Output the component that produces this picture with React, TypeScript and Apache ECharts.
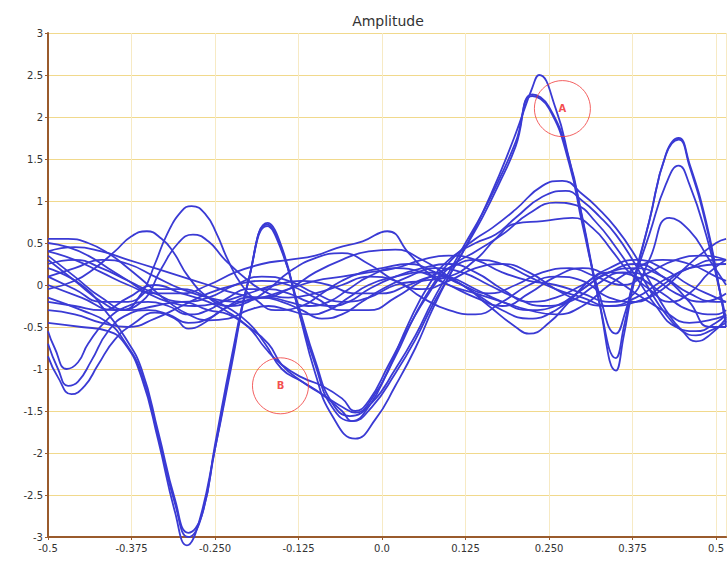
import React, { useEffect, useRef } from "react";
import * as echarts from "echarts";

const title = "Amplitude";
const xTickLabels = ["-0.5", "-0.375", "-0.250", "-0.125", "0.0", "0.125", "0.250", "0.375", "0.5"];

// Large-amplitude traces
const a1 = [[-0.5,-0.45],[-0.45,-0.5],[-0.41,-0.55],[-0.385,-0.7],[-0.36,-1.1],[-0.335,-1.85],[-0.31,-2.7],[-0.292,-3.1],[-0.275,-2.85],[-0.25,-1.95],[-0.225,-0.95],[-0.2,0.05],[-0.171,0.74],[-0.15,0.45],[-0.125,-0.3],[-0.1,-1.05],[-0.075,-1.55],[-0.04,-1.83],[-0.01,-1.6],[0.02,-1.2],[0.05,-0.75],[0.075,-0.3],[0.1,0.1],[0.125,0.45],[0.15,0.85],[0.175,1.3],[0.2,1.8],[0.225,2.35],[0.235,2.5],[0.26,2.1],[0.28,1.5],[0.3,0.8],[0.325,-0.2],[0.35,-1.02],[0.362,-0.6],[0.375,-0.05],[0.4,0.76],[0.425,1.56],[0.444,1.75],[0.46,1.45],[0.485,0.76],[0.505,-0.04],[0.515,-0.5]];
const a2 = [[-0.5,-0.15],[-0.45,-0.3],[-0.41,-0.45],[-0.385,-0.68],[-0.36,-1.05],[-0.335,-1.8],[-0.31,-2.6],[-0.29,-3.0],[-0.272,-2.8],[-0.25,-1.95],[-0.225,-0.9],[-0.2,0.05],[-0.172,0.72],[-0.15,0.42],[-0.125,-0.3],[-0.1,-0.95],[-0.075,-1.45],[-0.045,-1.62],[-0.015,-1.45],[0.02,-1.05],[0.05,-0.65],[0.075,-0.25],[0.1,0.1],[0.125,0.45],[0.15,0.8],[0.175,1.2],[0.2,1.65],[0.225,2.27],[0.25,2.12],[0.28,1.5],[0.3,0.78],[0.325,-0.2],[0.35,-0.87],[0.362,-0.5],[0.375,0.0],[0.4,0.76],[0.425,1.55],[0.444,1.73],[0.46,1.42],[0.485,0.72],[0.505,-0.05],[0.515,-0.45]];
const a3 = [[-0.5,0.2],[-0.45,0.0],[-0.41,-0.35],[-0.385,-0.62],[-0.36,-1.0],[-0.335,-1.75],[-0.31,-2.55],[-0.29,-2.95],[-0.27,-2.75],[-0.25,-1.9],[-0.225,-0.85],[-0.2,0.05],[-0.172,0.7],[-0.15,0.4],[-0.125,-0.25],[-0.1,-0.9],[-0.075,-1.4],[-0.048,-1.56],[-0.015,-1.4],[0.02,-1.0],[0.05,-0.6],[0.075,-0.2],[0.1,0.15],[0.125,0.5],[0.15,0.85],[0.175,1.25],[0.2,1.7],[0.225,2.25],[0.25,2.1],[0.28,1.45],[0.3,0.72],[0.325,-0.1],[0.35,-0.58],[0.365,-0.3],[0.375,0.0],[0.4,0.6],[0.425,1.2],[0.444,1.42],[0.46,1.2],[0.485,0.6],[0.505,-0.05],[0.515,-0.4]];

// Medium-amplitude traces
const m1 = [[-0.5,0.35],[-0.46,0.1],[-0.42,-0.15],[-0.38,-0.3],[-0.34,-0.25],[-0.3,-0.2],[-0.26,-0.3],[-0.23,-0.35],[-0.2,-0.5],[-0.17,-0.7],[-0.15,-0.95],[-0.12,-1.15],[-0.09,-1.3],[-0.06,-1.45],[-0.04,-1.52],[-0.015,-1.35],[0.02,-0.85],[0.05,-0.35],[0.08,0.05],[0.11,0.35],[0.14,0.55],[0.165,0.68],[0.2,0.9],[0.24,1.18],[0.27,1.24],[0.3,1.08],[0.325,0.9],[0.35,0.68],[0.375,0.4],[0.4,0.05],[0.425,-0.3],[0.45,-0.55],[0.47,-0.67],[0.49,-0.6],[0.515,-0.4]];
const m2 = [[-0.5,0.1],[-0.46,-0.05],[-0.42,-0.2],[-0.38,-0.2],[-0.34,-0.05],[-0.3,-0.05],[-0.26,-0.15],[-0.235,-0.25],[-0.2,-0.45],[-0.175,-0.7],[-0.15,-1.0],[-0.12,-1.15],[-0.09,-1.3],[-0.06,-1.5],[-0.045,-1.62],[-0.02,-1.45],[0.01,-1.0],[0.04,-0.45],[0.07,0.0],[0.1,0.3],[0.14,0.5],[0.17,0.6],[0.2,0.8],[0.24,1.05],[0.275,1.12],[0.3,1.0],[0.325,0.82],[0.35,0.6],[0.375,0.3],[0.4,-0.05],[0.425,-0.35],[0.45,-0.55],[0.47,-0.6],[0.49,-0.55],[0.515,-0.45]];
const m3 = [[-0.5,-0.2],[-0.46,-0.25],[-0.42,-0.3],[-0.38,-0.15],[-0.34,0.0],[-0.3,-0.1],[-0.26,-0.2],[-0.235,-0.3],[-0.2,-0.5],[-0.175,-0.75],[-0.15,-0.95],[-0.12,-1.1],[-0.09,-1.2],[-0.06,-1.35],[-0.04,-1.5],[-0.02,-1.38],[0.01,-0.95],[0.04,-0.5],[0.07,-0.1],[0.1,0.2],[0.14,0.4],[0.18,0.6],[0.22,0.85],[0.26,0.98],[0.29,0.95],[0.32,0.75],[0.35,0.45],[0.38,0.1],[0.41,-0.25],[0.44,-0.5],[0.47,-0.55],[0.5,-0.45],[0.515,-0.35]];
const f1 = [[-0.5,0.25],[-0.46,0.3],[-0.42,0.2],[-0.38,0.05],[-0.34,-0.1],[-0.3,-0.2],[-0.26,-0.15],[-0.22,0.0],[-0.18,0.1],[-0.14,0.05],[-0.1,-0.1],[-0.06,-0.2],[-0.02,-0.15],[0.02,0.0],[0.06,0.05],[0.1,0.1],[0.14,0.3],[0.17,0.55],[0.2,0.73],[0.24,0.76],[0.285,0.8],[0.315,0.68],[0.345,0.4],[0.37,0.15],[0.4,-0.05],[0.43,-0.2],[0.46,-0.1],[0.49,0.15],[0.515,0.3]];

// Low-amplitude traces
const t1 = [[-0.5,0.3],[-0.46,0.05],[-0.42,-0.2],[-0.39,-0.3],[-0.36,-0.1],[-0.34,0.25],[-0.322,0.6],[-0.3,0.88],[-0.285,0.94],[-0.265,0.85],[-0.247,0.6],[-0.232,0.32],[-0.21,0.0],[-0.185,-0.2],[-0.16,-0.3],[-0.12,-0.25],[-0.09,-0.1],[-0.06,0.05],[-0.03,0.15],[0.0,0.2],[0.04,0.25],[0.08,0.15],[0.12,0.0],[0.16,-0.1],[0.2,0.0],[0.24,0.15],[0.28,0.2],[0.32,0.1],[0.36,0.0],[0.4,0.15],[0.44,0.3],[0.48,0.35],[0.515,0.3]];
const t2 = [[-0.5,0.0],[-0.45,-0.15],[-0.4,-0.3],[-0.36,-0.2],[-0.33,0.2],[-0.305,0.5],[-0.283,0.6],[-0.26,0.52],[-0.235,0.3],[-0.2,0.05],[-0.17,-0.1],[-0.14,-0.15],[-0.1,-0.1],[-0.06,0.0],[-0.02,0.1],[0.02,0.05],[0.06,-0.15],[0.1,-0.3],[0.14,-0.35],[0.18,-0.2],[0.22,0.0],[0.26,0.1],[0.3,0.05],[0.34,-0.15],[0.38,-0.2],[0.42,0.0],[0.46,0.2],[0.515,0.25]];
const t3 = [[-0.5,-0.05],[-0.46,0.05],[-0.43,0.2],[-0.4,0.4],[-0.375,0.58],[-0.352,0.64],[-0.33,0.55],[-0.313,0.4],[-0.29,0.1],[-0.26,-0.15],[-0.23,-0.25],[-0.2,-0.2],[-0.17,-0.05],[-0.14,0.15],[-0.1,0.32],[-0.06,0.38],[-0.02,0.25],[0.02,0.05],[0.06,-0.05],[0.1,0.05],[0.14,0.2],[0.18,0.25],[0.22,0.15],[0.26,-0.05],[0.3,-0.2],[0.34,-0.25],[0.38,-0.15],[0.42,0.05],[0.46,0.2],[0.5,0.3],[0.515,0.3]];
const t4 = [[-0.5,0.55],[-0.47,0.55],[-0.44,0.5],[-0.41,0.38],[-0.38,0.2],[-0.35,0.0],[-0.32,-0.2],[-0.29,-0.35],[-0.26,-0.42],[-0.23,-0.4],[-0.2,-0.3],[-0.17,-0.25],[-0.14,-0.3],[-0.11,-0.35],[-0.08,-0.3],[-0.05,-0.15],[-0.02,0.0],[0.02,0.1],[0.06,0.15],[0.1,0.1],[0.14,-0.05],[0.18,-0.2],[0.22,-0.3],[0.26,-0.25],[0.3,-0.05],[0.34,0.15],[0.38,0.2],[0.42,0.1],[0.46,-0.1],[0.5,-0.2],[0.515,-0.2]];
const t5 = [[-0.5,-0.55],[-0.49,-0.75],[-0.472,-1.0],[-0.455,-0.92],[-0.44,-0.7],[-0.41,-0.4],[-0.38,-0.25],[-0.35,-0.2],[-0.32,-0.25],[-0.29,-0.35],[-0.26,-0.3],[-0.23,-0.15],[-0.2,-0.05],[-0.17,-0.05],[-0.14,-0.1],[-0.11,-0.2],[-0.08,-0.25],[-0.05,-0.2],[-0.02,-0.05],[0.02,0.1],[0.06,0.2],[0.1,0.25],[0.14,0.15],[0.18,-0.05],[0.22,-0.2],[0.26,-0.15],[0.3,0.0],[0.34,0.15],[0.38,0.1],[0.42,-0.1],[0.46,-0.3],[0.5,-0.35],[0.515,-0.3]];
const t6 = [[-0.5,-0.7],[-0.485,-1.0],[-0.47,-1.2],[-0.455,-1.15],[-0.435,-0.9],[-0.41,-0.55],[-0.38,-0.35],[-0.35,-0.3],[-0.32,-0.35],[-0.29,-0.45],[-0.26,-0.4],[-0.23,-0.25],[-0.2,-0.15],[-0.17,-0.15],[-0.14,-0.2],[-0.11,-0.25],[-0.08,-0.2],[-0.05,-0.05],[-0.02,0.1],[0.02,0.2],[0.06,0.15],[0.1,0.0],[0.14,-0.15],[0.18,-0.25],[0.22,-0.1],[0.26,0.1],[0.3,0.2],[0.34,0.1],[0.38,-0.1],[0.42,-0.3],[0.46,-0.45],[0.5,-0.4],[0.515,-0.35]];
const t7 = [[-0.5,-0.85],[-0.485,-1.1],[-0.465,-1.3],[-0.445,-1.2],[-0.425,-0.95],[-0.4,-0.65],[-0.37,-0.45],[-0.34,-0.33],[-0.31,-0.4],[-0.29,-0.52],[-0.27,-0.47],[-0.24,-0.3],[-0.21,-0.2],[-0.18,-0.15],[-0.15,-0.2],[-0.12,-0.3],[-0.09,-0.4],[-0.06,-0.35],[-0.03,-0.2],[0.0,-0.05],[0.04,0.1],[0.08,0.2],[0.12,0.15],[0.16,0.0],[0.2,-0.15],[0.24,-0.25],[0.28,-0.2],[0.32,0.0],[0.36,0.15],[0.4,0.1],[0.44,-0.1],[0.48,-0.2],[0.515,-0.1]];
const t8 = [[-0.5,0.4],[-0.46,0.3],[-0.42,0.15],[-0.38,0.0],[-0.34,-0.1],[-0.3,-0.1],[-0.26,0.0],[-0.22,0.15],[-0.18,0.25],[-0.14,0.3],[-0.1,0.35],[-0.068,0.44],[-0.029,0.52],[0.008,0.64],[0.041,0.37],[0.071,0.13],[0.1,0.0],[0.14,-0.1],[0.18,-0.2],[0.22,-0.3],[0.26,-0.35],[0.3,-0.25],[0.34,0.0],[0.38,0.2],[0.42,0.3],[0.46,0.25],[0.5,0.1],[0.515,0.05]];
const t9 = [[-0.5,0.1],[-0.46,0.2],[-0.42,0.3],[-0.38,0.25],[-0.34,0.1],[-0.3,-0.05],[-0.26,-0.15],[-0.22,-0.2],[-0.18,-0.15],[-0.14,-0.05],[-0.1,0.05],[-0.06,0.1],[-0.02,0.15],[0.02,0.2],[0.06,0.3],[0.1,0.35],[0.14,0.3],[0.18,0.15],[0.22,0.05],[0.26,0.0],[0.3,-0.1],[0.34,-0.2],[0.37,-0.15],[0.4,0.3],[0.43,0.8],[0.46,0.65],[0.49,0.3],[0.515,0.0]];
const t10 = [[-0.5,0.5],[-0.47,0.45],[-0.44,0.35],[-0.41,0.2],[-0.38,0.05],[-0.35,-0.1],[-0.32,-0.2],[-0.28,-0.25],[-0.24,-0.2],[-0.2,-0.1],[-0.16,0.0],[-0.12,0.05],[-0.08,0.0],[-0.04,-0.1],[0.0,-0.1],[0.04,0.0],[0.08,0.1],[0.12,0.0],[0.16,-0.25],[0.2,-0.5],[0.22,-0.58],[0.25,-0.45],[0.28,-0.2],[0.31,0.05],[0.34,0.2],[0.38,0.3],[0.42,0.2],[0.46,0.0],[0.5,-0.15],[0.515,-0.2]];
const t11 = [[-0.5,0.4],[-0.46,0.45],[-0.42,0.4],[-0.38,0.3],[-0.34,0.2],[-0.3,0.1],[-0.26,0.0],[-0.22,-0.1],[-0.18,-0.15],[-0.14,-0.05],[-0.1,0.15],[-0.06,0.3],[-0.02,0.4],[0.02,0.42],[0.06,0.3],[0.1,0.1],[0.14,-0.1],[0.18,-0.3],[0.22,-0.4],[0.26,-0.3],[0.3,-0.05],[0.34,0.15],[0.38,0.25],[0.42,0.1],[0.46,-0.2],[0.49,-0.5],[0.515,-0.5]];
const t12 = [[-0.5,-0.3],[-0.46,-0.35],[-0.42,-0.45],[-0.38,-0.5],[-0.34,-0.4],[-0.3,-0.25],[-0.26,-0.1],[-0.22,0.0],[-0.18,0.05],[-0.14,0.0],[-0.1,-0.15],[-0.06,-0.3],[-0.02,-0.3],[0.02,-0.15],[0.06,0.05],[0.1,0.2],[0.14,0.3],[0.18,0.25],[0.22,0.1],[0.26,-0.05],[0.3,-0.15],[0.34,-0.25],[0.38,-0.2],[0.42,-0.05],[0.46,0.25],[0.5,0.5],[0.515,0.55]];

const traces = [a1, a2, a3, m1, m2, m3, f1, t1, t2, t3, t4, t5, t6, t7, t8, t9, t10, t11, t12];

// Annotation circles: [x, y, label]
const annotations = [[0.27, 2.1, "A"], [-0.152, -1.2, "B"]];

const AXIS_COLOR = "#9a5b2c";
const GRID_H_COLOR = "#f1d98c";
const GRID_V_COLOR = "#f7eac4";
const LINE_COLOR = "#3a3ad4";
const FONT = "DejaVu Sans";

export default function App() {
  const ref = useRef<HTMLDivElement>(null);
  useEffect(() => {
    if (!ref.current) return;
    const chart = echarts.init(ref.current, undefined, { renderer: "svg" });
    const series: any[] = traces.map((d, i) => ({
      type: "line",
      name: "trace" + i,
      data: d,
      smooth: 0.5,
      showSymbol: false,
      symbol: "none",
      clip: false,
      lineStyle: { color: LINE_COLOR, width: 1.8 },
      emphasis: { disabled: true },
      z: 2,
    }));
    series.push({
      type: "scatter",
      data: annotations.map((a) => ({ value: [a[0], a[1]], name: a[2] })),
      symbol: "circle",
      symbolSize: 56,
      itemStyle: { color: "rgba(255,255,255,0)", borderColor: "#f03a3a", borderWidth: 1 },
      label: {
        show: true,
        position: "inside",
        formatter: (p: any) => p.name,
        color: "#f02020",
        fontSize: 10,
        fontWeight: "bold",
        fontFamily: FONT,
      },
      z: 5,
    });
    chart.setOption({
      animation: false,
      title: {
        text: title,
        left: 383,
        textAlign: "center",
        top: 9,
        textStyle: { fontSize: 14, fontWeight: "normal", color: "#333", fontFamily: FONT },
      },
      grid: { left: 48, right: 0, top: 33, bottom: 26, containLabel: false },
      xAxis: {
        type: "value",
        min: -0.5,
        max: 0.515,
        interval: 0.125,
        axisLine: { show: true, onZero: false, lineStyle: { color: AXIS_COLOR, width: 2 } },
        axisTick: { show: true, length: 3, lineStyle: { color: AXIS_COLOR } },
        axisLabel: {
          showMaxLabel: false,
          color: "#333",
          fontSize: 10,
          fontFamily: FONT,
          margin: 6,
          formatter: (v: number) => {
            const i = Math.round((v + 0.5) / 0.125);
            if (Math.abs(v - (-0.5 + i * 0.125)) > 1e-6) return "";
            return xTickLabels[i] ?? "";
          },
        },
        splitLine: { show: true, lineStyle: { color: GRID_V_COLOR, width: 1 } },
      },
      yAxis: {
        type: "value",
        min: -3,
        max: 3,
        interval: 0.5,
        axisLine: { show: true, onZero: false, lineStyle: { color: AXIS_COLOR, width: 2 } },
        axisTick: { show: true, length: 3, lineStyle: { color: AXIS_COLOR } },
        axisLabel: { color: "#333", fontSize: 10, fontFamily: FONT, margin: 5 },
        splitLine: { show: true, lineStyle: { color: GRID_H_COLOR, width: 1 } },
      },
      series,
    });
    return () => chart.dispose();
  }, []);
  return (
    <div
      ref={ref}
      style={{ position: "fixed", left: 0, top: 0, width: 727, height: 563, background: "#fff" }}
    />
  );
}
